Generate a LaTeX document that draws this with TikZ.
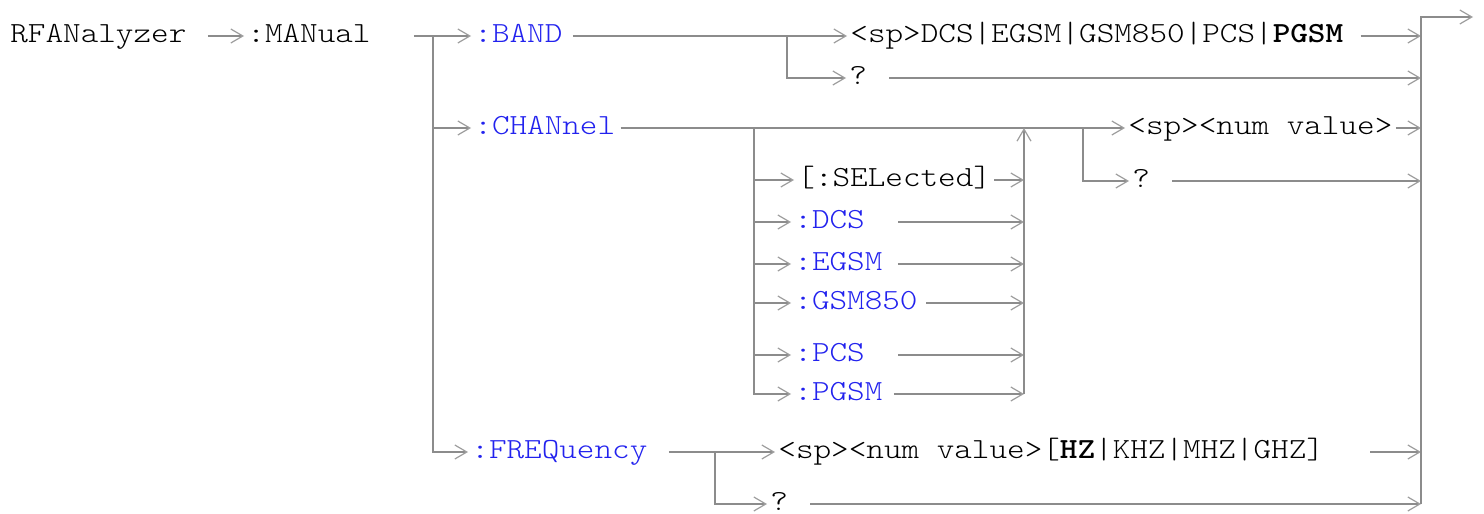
\documentclass[tikz,border=0pt]{standalone}
\usepackage{fontspec}
\setmonofont{lmmonolt10-regular.otf}[FakeStretch=1.148,BoldFont=lmmonolt10-bold.otf,BoldFeatures={FakeStretch=1.148}]
\usepackage{tikz}
\usetikzlibrary{arrows.meta,positioning,calc}
\definecolor{kwblue}{HTML}{2222EE}
\definecolor{railgrey}{HTML}{8C8C8C}

\begin{document}
\begin{tikzpicture}[x=0.5pt,y=-0.5pt,
  font=\ttfamily\fontsize{14.6pt}{17pt}\selectfont,
  tok/.style={anchor=west,inner xsep=1.5pt,inner ysep=0pt,text height=0.6em,text depth=0pt},
  kw/.style={tok,text=kwblue},
  rail/.style={railgrey,line width=1pt},
  arr/.style={rail,-{Straight Barb[length=6pt,width=7pt,line width=0.6pt,color=railgrey!85]}}]
  \useasboundingbox (0,0) rectangle (1484,514);
  % keywords and values
  \node[tok] (root) at (7,36) {RFANalyzer};
  \node[tok] (manual) at (244,36) {:MANual};
  \node[kw] (band) at (471,36) {:BAND};
  \node[tok] (bandval) at (847,36) {<sp>DCS|EGSM|GSM850|PCS|\textbf{PGSM}};
  \node[tok] (bandq) at (846,78) {?};
  \node[kw] (chan) at (471,128) {:CHANnel};
  \node[tok] (chanval) at (1125,128) {<sp><num value>};
  \node[tok] (chanq) at (1129,181) {?};
  \node[tok] (sel) at (794,180) {[:SELected]};
  \node[kw] (freq) at (468,452) {:FREQuency};
  \node[tok] (freqval) at (775,452) {<sp><num value>[\textbf{HZ}|KHZ|MHZ|GHZ]};
  \node[tok] (freqq) at (767,504) {?};
  % branch and merge points
  \coordinate (split) at (433,36);
  \coordinate (bandsplit) at (787,36);
  \coordinate (chansplit) at (754,128);
  \coordinate (valsplit) at (1083,128);
  \coordinate (chanbus) at (1024,128);
  \coordinate (freqsplit) at (715,452);
  \coordinate (bus) at (1421,17);
  \coordinate (exit) at (1473,17);
  % main path
  \draw[arr,shorten <=9pt] (root) -- (manual);
  \draw[arr,shorten <=20pt] (manual) -- (band);
  \draw[arr] (split) |- (chan.west);
  \draw[arr] (split) |- (freq.west);
  % :BAND
  \draw[arr,shorten <=3.5pt] (band) -- (bandval);
  \draw[arr] (bandsplit) |- (bandq.west);
  \draw[arr,shorten <=7pt] (bandval) -- (bandval -| bus);
  \draw[arr,shorten <=9.5pt] (bandq) -- (bandq -| bus);
  % :CHANnel
  \draw[arr,shorten <=1pt] (chan) -- (chanval);
  \draw[arr] (valsplit) |- (chanq.west);
  \draw[arr] (chanval) -- (chanval -| bus);
  \draw[arr,shorten <=9.5pt] (chanq) -- (chanq -| bus);
  \draw[arr] (chansplit) |- (sel.west);
  \draw[arr] (sel) -- (sel -| chanbus);
  \foreach \n/\t/\y/\s in {dcs/:DCS/222/15pt,egsm/:EGSM/264/6pt,gsm/:GSM850/303/2.5pt,pcs/:PCS/355/15pt,pgsm/:PGSM/394/4pt}{
    \node[kw] (\n) at (791,\y) {\t};
    \draw[arr] (chansplit) |- (\n.west);
    \draw[arr,shorten <=\s] (\n) -- (\n -| chanbus);
  }
  \draw[arr] (chanbus |- pgsm) -- (chanbus);
  % :FREQuency
  \draw[arr,shorten <=9pt] (freq) -- (freqval);
  \draw[arr] (freqsplit) |- (freqq.west);
  \draw[arr,shorten <=21.5pt] (freqval) -- (freqval -| bus);
  \draw[arr,shorten <=9.5pt] (freqq) -- (freqq -| bus);
  % exit
  \draw[arr] (bus |- freqq) -- (bus) -- (exit);
\end{tikzpicture}
\end{document}
